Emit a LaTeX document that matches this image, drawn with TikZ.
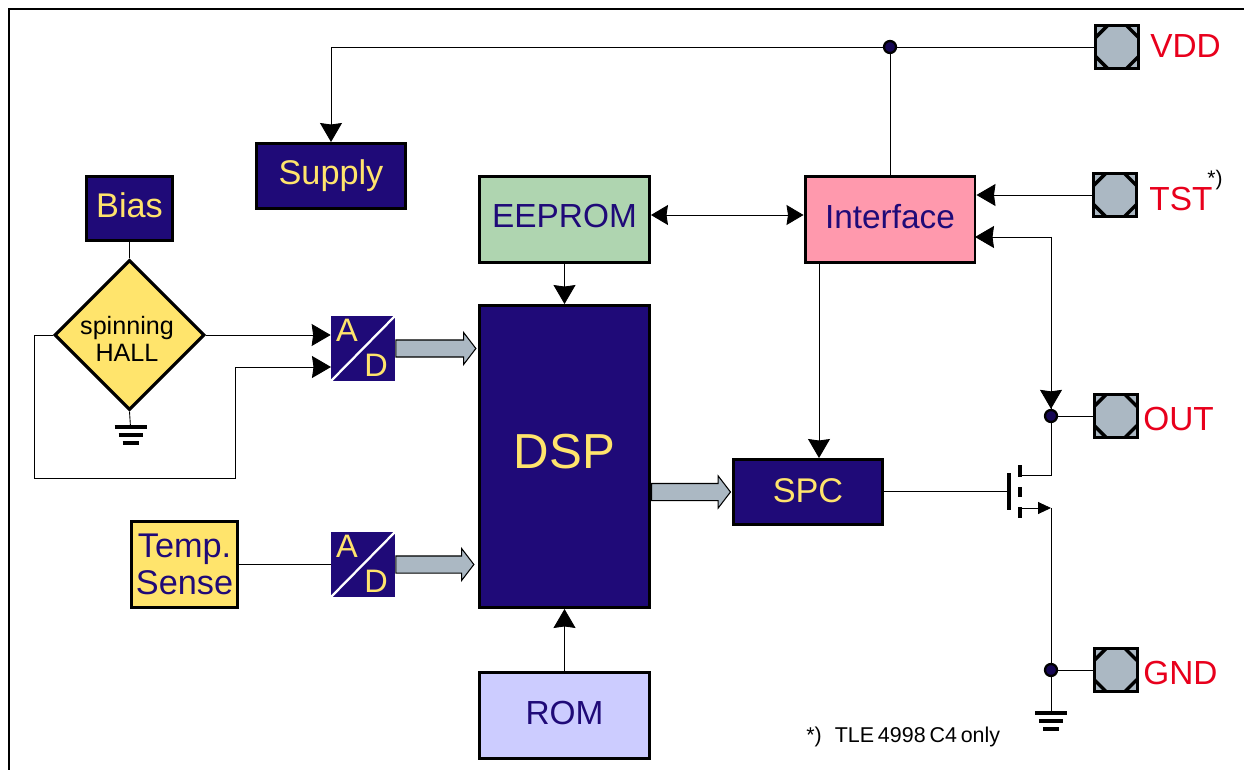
\documentclass[tikz,border=0pt]{standalone}
\usepackage{fontspec}
\setmainfont{Liberation Sans}
\RequirePackage{xcolor}
\definecolor{chipblue}{HTML}{1F0A78}
\definecolor{chipyellow}{HTML}{FFE46C}
\definecolor{chipgreen}{HTML}{AFD5B0}
\definecolor{chippink}{HTML}{FF99AD}
\definecolor{chiplilac}{HTML}{CCCCFF}
\definecolor{padgray}{HTML}{ABB8C3}
\definecolor{padred}{HTML}{E8001C}
\usetikzlibrary{shapes,arrows}
\usetikzlibrary{positioning}
\usetikzlibrary{arrows.meta, calc}
\tikzset{
  block/.style={rectangle, draw=black, line width=1.7pt, align=center, inner sep=0pt,
    font=\fontsize{19.5}{21}\selectfont},
  darkblock/.style={block, fill=chipblue, text=chipyellow},
  lightblock/.style={block, text=chipblue, font=\fontsize{19}{21}\selectfont},
  wire/.style={line width=0.5pt, draw=black},
  wirearrow/.style={wire, -{Stealth[length=0.38cm, width=0.44cm, inset=0.03cm]}},
  wirebothways/.style={wire, {Stealth[length=0.34cm, width=0.4cm, inset=0.03cm]}-{Stealth[length=0.34cm, width=0.4cm, inset=0.03cm]}},
  bigarrow/.style={single arrow, draw=black, line width=0.6pt, fill=padgray, anchor=west,
    inner xsep=0pt, inner ysep=0.16cm, single arrow head extend=0.15cm,
    single arrow tip angle=105, single arrow head indent=0pt},
  joint/.style={circle, draw=black, line width=1.3pt, fill=chipblue!70!black, minimum size=0.24cm, inner sep=0pt},
  pad/.style={rectangle, draw=black, line width=1.7pt, fill=padgray, minimum size=0.86cm, inner sep=0pt,
    path picture={
      \draw[black, line width=2pt]
        ([xshift=0.24cm]path picture bounding box.north west) -- ([yshift=-0.24cm]path picture bounding box.north west)
        ([xshift=-0.24cm]path picture bounding box.north east) -- ([yshift=-0.24cm]path picture bounding box.north east)
        ([xshift=0.24cm]path picture bounding box.south west) -- ([yshift=0.24cm]path picture bounding box.south west)
        ([xshift=-0.24cm]path picture bounding box.south east) -- ([yshift=0.24cm]path picture bounding box.south east);
    }},
  padlabel/.style={text=padred, inner sep=0pt, font=\fontsize{19}{21}\selectfont},
  adblock/.style={rectangle, fill=chipblue, minimum width=1.28cm, minimum height=1.3cm, inner sep=0pt,
    path picture={
      \draw[white, line width=1.3pt] (path picture bounding box.south west) -- (path picture bounding box.north east);
    }},
  adlabel/.style={text=chipyellow, inner sep=0pt, font=\fontsize{18.5}{20}\selectfont},
  groundbar/.style={line width=2.2pt, draw=black},
  fetbar/.style={line width=2.2pt, draw=black}
}

\begin{document}
\begin{tikzpicture}[x=0.02cm, y=-0.02cm]
  \useasboundingbox (0,0) rectangle (1244,770);
  % frame
  \draw[line width=1.4pt] (9,770) -- (9,9) -- (1244,9);
  % blocks
  \node[darkblock, minimum width=2.98cm, minimum height=1.3cm] (supply) at (331,176) {Supply};
  \node[darkblock, minimum width=1.72cm, minimum height=1.28cm, text depth=0.12cm] (bias) at (129.5,208.5) {Bias};
  \node[lightblock, fill=chipgreen, minimum width=3.4cm, minimum height=1.72cm, text depth=0.16cm] (eeprom) at (564.5,219.5) {EEPROM};
  \node[lightblock, fill=chippink, minimum width=3.4cm, minimum height=1.72cm, text depth=0.12cm] (interface) at (890,219.5) {Interface};
  \node[darkblock, minimum width=3.4cm, minimum height=6.04cm, font=\fontsize{28}{30}\selectfont, text depth=0.2cm] (dsp) at (564.5,456.5) {DSP};
  \node[lightblock, fill=chiplilac, minimum width=3.4cm, minimum height=1.72cm, text depth=0.12cm] (rom) at (564.5,715.5) {ROM};
  \node[darkblock, minimum width=2.98cm, minimum height=1.3cm, text depth=0.04cm] (spc) at (808,492) {SPC};
  \node[lightblock, fill=chipyellow, minimum width=2.12cm, minimum height=1.72cm, font=\fontsize{19.5}{21}\selectfont] (temp) at (184.5,564.5) {Temp.\\Sense};
  \node[diamond, draw=black, line width=1.8pt, fill=chipyellow, minimum size=3cm, inner sep=0pt] (hall) at (129.5,335) {};
  \node[align=center, inner sep=0pt, font=\fontsize{14.3}{15.4}\selectfont] (halltext) at (127,339) {spinning\\HALL};
  % converters
  \node[adblock] (adfirst) at (363,348.5) {};
  \node[adlabel] (adfirsta) at (347,330) {A};
  \node[adlabel] (adfirstd) at (376,365) {D};
  \node[adblock] (adsecond) at (363,564.5) {};
  \node[adlabel] (adseconda) at (347,546) {A};
  \node[adlabel] (adsecondd) at (376,581) {D};
  % pads
  \node[pad] (vdd) at (1117,47) {};
  \node[pad] (tst) at (1115,195) {};
  \node[pad] (out) at (1115.5,416) {};
  \node[pad] (gnd) at (1115.5,670) {};
  \node[padlabel, anchor=west] (vddlabel) at (1150,46) {VDD};
  \node[padlabel, anchor=west] (tstlabel) at (1149,199) {TST};
  \node[padlabel, anchor=west] (outlabel) at (1143,419) {OUT};
  \node[padlabel, anchor=west] (gndlabel) at (1143,673) {GND};
  \node[anchor=west, inner sep=0pt, font=\fontsize{12}{14}\selectfont] (tstnote) at (1207,180) {*)};
  \node[anchor=west, inner sep=0pt, font=\fontsize{12.2}{14}\selectfont] (note) at (806,737) {*)\hspace{0.26cm}{\spaceskip=0.18em TLE 4998 C4 only}};
  % joints
  \node[joint] (vddjoint) at (interface.north |- vdd) {};
  \node[joint] (outjoint) at (1051,416) {};
  \node[joint] (gndjoint) at (1051,670) {};
  % wires at the top
  \draw[wire] (vdd) -- (vddjoint);
  \draw[wire] (vddjoint) -- (interface.north);
  \draw[wirearrow] (vddjoint) -| (supply.north);
  \draw[wirearrow] (tst.west) -- (interface.east |- tst);
  \draw[wirebothways] ([yshift=0.09cm]eeprom.east) -- ([yshift=0.09cm]interface.west);
  \draw[wirearrow] (eeprom.south) -- (dsp.north);
  \draw[wirearrow] (rom.north) -- (dsp.south);
  \coordinate (ifspc) at (819,263);
  \draw[wirearrow] (ifspc) -- (ifspc |- spc.north);
  \coordinate (ifout) at (975,237);
  \draw[wirearrow] (outjoint.north) |- (ifout);
  \draw[wirearrow] (ifout -| outjoint) -- (outjoint.north);
  % hall probe
  \draw[wire] (bias.south) -- (hall.north);
  \draw[wirearrow] (hall.east) -- (hall.east -| adfirst.west);
  \coordinate (loopleft) at (34,478);
  \coordinate (loopright) at (235,478);
  \coordinate (adin) at (331,367);
  \draw[wirearrow] (hall.west) -| (loopleft) -- (loopright) |- (adin);
  \draw[wire] (temp.east) -- (adsecond.west);
  % block arrows
  \node[bigarrow, minimum height=1.6cm] (adfirstout) at (adfirst.east) {};
  \node[bigarrow, minimum height=1.56cm] (adsecondout) at (adsecond.east) {};
  \node[bigarrow, minimum height=1.58cm] (dspout) at (dsp.east |- spc) {};
  % output stage
  \coordinate (gate) at (1009,491);
  \draw[wire] (spc.east |- gate) -- (gate);
  \draw[fetbar] (1009,473) -- (1009,510);
  \foreach \ya/\yb in {465/477, 487/497, 507/518}
    \draw[fetbar] (1020,\ya) -- (1020,\yb);
  \draw[wire] (outjoint) -- (out.west);
  \draw[wire] (outjoint) |- (1020,475);
  \coordinate (source) at (1051,508);
  \draw[wire, -{Triangle[length=0.26cm, width=0.24cm]}] (1020,508) -- (source);
  \draw[wire] (source) -- (gndjoint);
  \draw[wire] (gndjoint) -- (gnd.west);
  % grounds
  \coordinate (earthone) at (130.5,427);
  \coordinate (earthtwo) at (1051,713);
  \draw[wire] (hall.south) -- (earthone);
  \draw[wire] (gndjoint) -- (earthtwo);
  \foreach \e in {earthone, earthtwo}
    \foreach \dy/\hw in {0/16, 8/12, 16/8}
      \draw[groundbar] ($(\e)+(-\hw,\dy)$) -- ($(\e)+(\hw,\dy)$);
\end{tikzpicture}
\end{document}
